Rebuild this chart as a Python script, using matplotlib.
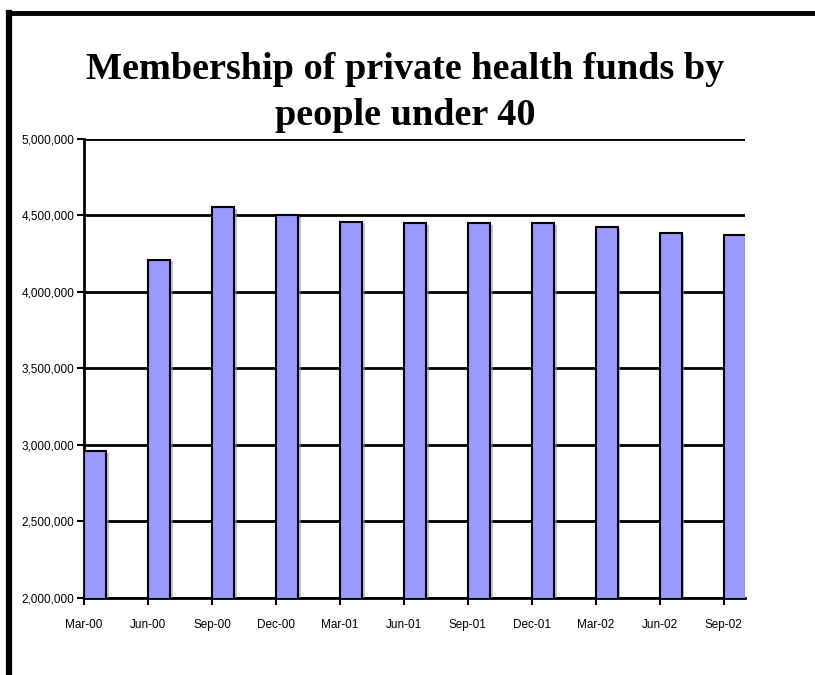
import matplotlib.pyplot as plt
from matplotlib.lines import Line2D
from matplotlib.ticker import FuncFormatter
import matplotlib.patheffects as pe

quarters = ["Mar-00", "Jun-00", "Sep-00", "Dec-00", "Mar-01", "Jun-01",
            "Sep-01", "Dec-01", "Mar-02", "Jun-02", "Sep-02"]
members = [2959000, 4211000, 4552000, 4500000, 4459000, 4448000,
           4448000, 4447000, 4422000, 4383000, 4370000]

narrow = ["Liberation Sans Narrow", "Liberation Sans", "DejaVu Sans"]

fig = plt.figure(figsize=(8.15, 6.75), dpi=100)
ax = fig.add_axes([0.1031, 0.1141, 0.811, 0.6804])

# date-style axis: one slot per month, quarterly ticks
xpos = [i * 3 for i in range(len(quarters))]
shadow = [pe.SimplePatchShadow(offset=(2, -1), shadow_rgbFace="#999999", alpha=0.6),
          pe.Normal()]
ax.bar(xpos, members, width=1.03, align="edge", color="#9999FF",
       edgecolor="black", linewidth=1.5, zorder=3, path_effects=shadow)

ax.set_xlim(0, 31)
ax.set_ylim(2000000, 5000000)
ax.set_yticks(range(2000000, 5000001, 500000))
ax.yaxis.set_major_formatter(FuncFormatter(lambda v, p: f"{int(v):,}"))
ax.set_xticks(xpos)
ax.set_xticklabels(quarters)

ax.grid(axis="y", color="black", linewidth=2, zorder=1)
for side in ("top", "right"):
    ax.spines[side].set_visible(False)
for side in ("left", "bottom"):
    ax.spines[side].set_linewidth(2)
ax.tick_params(axis="both", direction="out", length=5, width=1.5, color="black")
ax.tick_params(axis="x", pad=10)
ax.tick_params(axis="y", pad=2)
for lab in ax.get_xticklabels() + ax.get_yticklabels():
    lab.set_family(narrow)
    lab.set_fontsize(8.5)

fig.text(0.497, 0.863, "Membership of private health funds by\npeople under 40",
         ha="center", va="center", fontsize=27.5, fontweight="bold",
         family=["Liberation Serif", "DejaVu Serif"], linespacing=1.42)

# chart frame along the top and left edge
fig.add_artist(Line2D([9 / 815, 9 / 815], [0, 1 - 13 / 675], color="black", linewidth=4.5))
fig.add_artist(Line2D([9 / 815, 1], [1 - 13 / 675, 1 - 13 / 675], color="black", linewidth=3.5))

fig.savefig("out.png", dpi=100)
